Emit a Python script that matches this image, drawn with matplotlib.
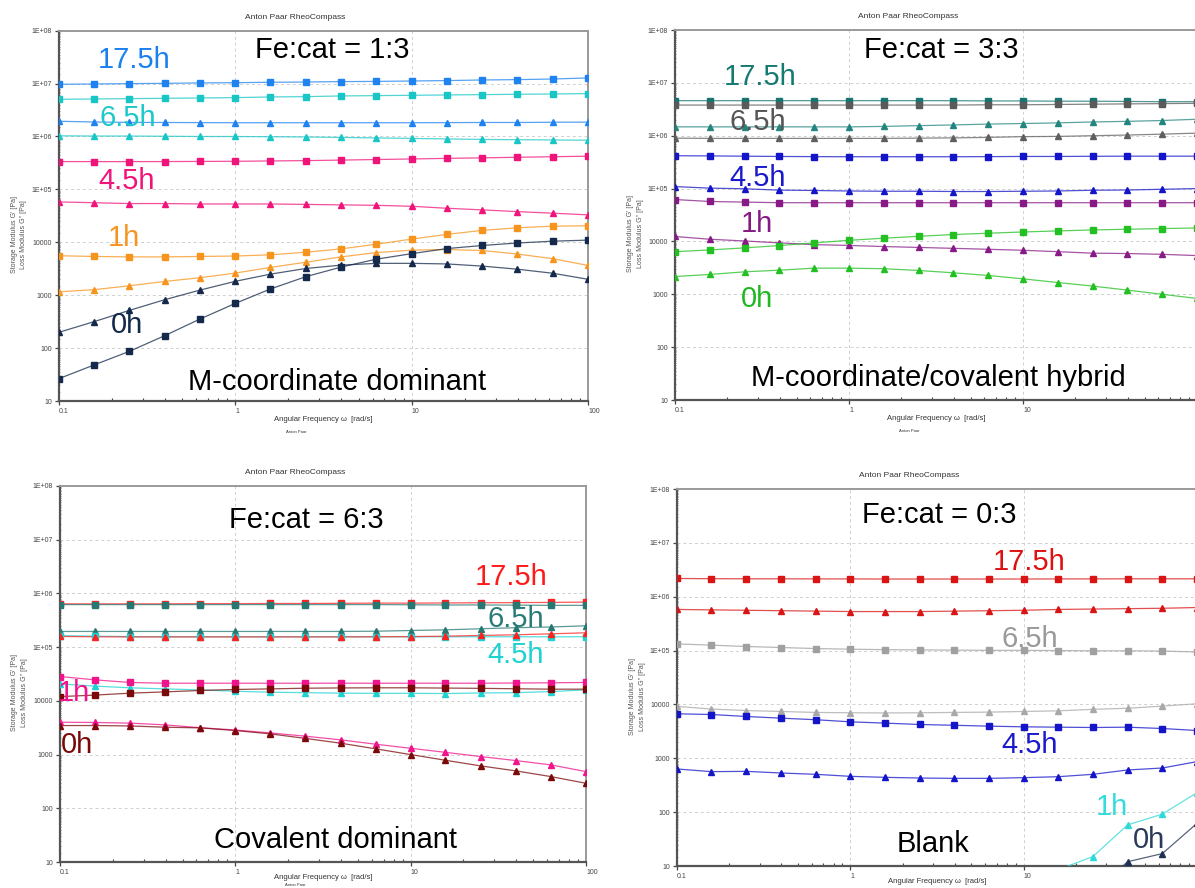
import matplotlib
matplotlib.use('Agg')
import matplotlib.pyplot as plt
import matplotlib.ticker as mticker
import numpy as np

plt.rcParams['font.family'] = ['Liberation Sans', 'DejaVu Sans']

# angular frequency sweep [rad/s], 5 points per decade
freq = [0.1, 0.158, 0.251, 0.398, 0.631, 1.0, 1.58, 2.51, 3.98, 6.31,
        10.0, 15.8, 25.1, 39.8, 63.1, 100.0]
nan = float('nan')

# Fe:cat = 1:3  (G' = storage, G'' = loss) [Pa]
a_175_gp = [9.7e6, 9.84e6, 9.99e6, 1.01e7, 1.03e7, 1.04e7, 1.06e7, 1.07e7, 1.09e7, 1.1e7,
            1.12e7, 1.14e7, 1.17e7, 1.19e7, 1.22e7, 1.28e7]
a_175_gpp = [1.94e6, 1.88e6, 1.85e6, 1.84e6, 1.83e6, 1.82e6, 1.82e6, 1.82e6, 1.82e6, 1.82e6,
             1.82e6, 1.83e6, 1.84e6, 1.84e6, 1.86e6, 1.87e6]
a_65_gp = [5.05e6, 5.12e6, 5.2e6, 5.27e6, 5.35e6, 5.43e6, 5.59e6, 5.67e6, 5.84e6, 5.93e6,
           6.01e6, 6.1e6, 6.19e6, 6.28e6, 6.37e6, 6.47e6]
a_65_gpp = [1.03e6, 1.02e6, 1.02e6, 1.01e6, 1.0e6, 1.0e6, 9.9e5, 9.8e5, 9.6e5, 9.4e5,
            9.2e5, 9.0e5, 8.8e5, 8.7e5, 8.6e5, 8.5e5]
a_45_gp = [3.36e5, 3.35e5, 3.35e5, 3.36e5, 3.38e5, 3.4e5, 3.45e5, 3.5e5, 3.58e5, 3.67e5,
           3.76e5, 3.86e5, 3.95e5, 4.05e5, 4.15e5, 4.24e5]
a_45_gpp = [5.8e4, 5.6e4, 5.4e4, 5.4e4, 5.3e4, 5.3e4, 5.3e4, 5.2e4, 5.1e4, 5.0e4,
            4.8e4, 4.4e4, 4.1e4, 3.8e4, 3.55e4, 3.3e4]
a_1_gp = [5.57e3, 5.4e3, 5.3e3, 5.3e3, 5.4e3, 5.5e3, 5.8e3, 6.5e3, 7.5e3, 9.2e3,
          1.15e4, 1.41e4, 1.68e4, 1.88e4, 2.02e4, 2.05e4]
a_1_gpp = [1.16e3, 1.27e3, 1.51e3, 1.82e3, 2.14e3, 2.62e3, 3.35e3, 4.2e3, 5.3e3, 6.4e3,
           7.1e3, 7.3e3, 7.0e3, 6.0e3, 4.9e3, 3.65e3]
a_0_gp = [26.5, 48, 87, 172, 355, 700, 1.31e3, 2.24e3, 3.4e3, 4.8e3,
          6.1e3, 7.6e3, 8.7e3, 9.7e3, 1.05e4, 1.1e4]
a_0_gpp = [199, 316, 517, 823, 1.25e3, 1.83e3, 2.5e3, 3.2e3, 3.7e3, 4.0e3,
           4.0e3, 3.9e3, 3.55e3, 3.1e3, 2.6e3, 2.0e3]

# Fe:cat = 3:3
b_175_gp = [4.6e6, 4.6e6, 4.6e6, 4.6e6, 4.6e6, 4.6e6, 4.6e6, 4.6e6, 4.6e6, 4.55e6,
            4.55e6, 4.5e6, 4.5e6, 4.45e6, 4.4e6, 4.4e6]
b_175_gpp = [1.47e6, 1.47e6, 1.47e6, 1.47e6, 1.47e6, 1.47e6, 1.5e6, 1.55e6, 1.6e6, 1.66e6,
             1.7e6, 1.75e6, 1.82e6, 1.87e6, 1.94e6, 2.05e6]
b_65_gp = [3.8e6, 3.8e6, 3.8e6, 3.8e6, 3.8e6, 3.8e6, 3.8e6, 3.8e6, 3.8e6, 3.85e6,
           3.85e6, 3.9e6, 3.95e6, 4.0e6, 4.05e6, 4.1e6]
b_65_gpp = [9.0e5, 8.9e5, 8.9e5, 8.9e5, 8.9e5, 8.9e5, 8.9e5, 9.0e5, 9.1e5, 9.3e5,
            9.6e5, 9.7e5, 1.0e6, 1.03e6, 1.07e6, 1.12e6]
b_45_gp = [4.18e5, 4.15e5, 4.1e5, 4.05e5, 4.02e5, 4.0e5, 4.0e5, 4.0e5, 4.0e5, 4.02e5,
           4.05e5, 4.05e5, 4.08e5, 4.1e5, 4.1e5, 4.1e5]
b_45_gpp = [1.09e5, 1.02e5, 9.9e4, 9.35e4, 9.2e4, 9.0e4, 8.9e4, 8.9e4, 8.8e4, 8.8e4,
            8.9e4, 9.0e4, 9.3e4, 9.4e4, 9.7e4, 1.0e5]
b_1_gp = [6.2e4, 5.7e4, 5.55e4, 5.4e4, 5.4e4, 5.4e4, 5.4e4, 5.4e4, 5.4e4, 5.4e4,
          5.4e4, 5.4e4, 5.4e4, 5.4e4, 5.4e4, 5.4e4]
b_1_gpp = [1.24e4, 1.1e4, 1.02e4, 9.4e3, 8.7e3, 8.4e3, 8.0e3, 7.7e3, 7.4e3, 7.1e3,
           6.8e3, 6.4e3, 6.0e3, 5.9e3, 5.7e3, 5.4e3]
b_0_gp = [6.4e3, 6.9e3, 7.55e3, 8.36e3, 9.4e3, 1.05e4, 1.15e4, 1.25e4, 1.35e4, 1.43e4,
          1.51e4, 1.58e4, 1.65e4, 1.7e4, 1.75e4, 1.8e4]
b_0_gpp = [2.17e3, 2.37e3, 2.66e3, 2.86e3, 3.12e3, 3.12e3, 3.05e3, 2.82e3, 2.55e3, 2.27e3,
           1.96e3, 1.67e3, 1.43e3, 1.2e3, 1.0e3, 834]

# Fe:cat = 6:3
c_175_gp = [6.4e5, 6.4e5, 6.4e5, 6.4e5, 6.45e5, 6.45e5, 6.5e5, 6.5e5, 6.55e5, 6.6e5,
            6.6e5, 6.65e5, 6.7e5, 6.75e5, 6.8e5, 6.9e5]
c_175_gpp = [1.58e5, 1.56e5, 1.55e5, 1.55e5, 1.55e5, 1.55e5, 1.55e5, 1.55e5, 1.55e5, 1.56e5,
             1.57e5, 1.6e5, 1.65e5, 1.7e5, 1.77e5, 1.85e5]
c_65_gp = [6.2e5, 6.2e5, 6.2e5, 6.2e5, 6.2e5, 6.2e5, 6.2e5, 6.2e5, 6.2e5, 6.2e5,
           6.15e5, 6.1e5, 6.1e5, 6.05e5, 6.0e5, 6.0e5]
c_65_gpp = [1.96e5, 1.96e5, 1.96e5, 1.96e5, 1.96e5, 1.96e5, 1.96e5, 1.96e5, 1.96e5, 1.98e5,
            2.04e5, 2.1e5, 2.2e5, 2.3e5, 2.37e5, 2.5e5]
c_45_gp = [1.64e5, 1.6e5, 1.57e5, 1.56e5, 1.56e5, 1.56e5, 1.56e5, 1.56e5, 1.56e5, 1.56e5,
           1.56e5, 1.56e5, 1.56e5, 1.56e5, 1.56e5, 1.56e5]
c_45_gpp = [2.07e4, 1.88e4, 1.75e4, 1.67e4, 1.6e4, 1.51e4, 1.45e4, 1.42e4, 1.39e4, 1.38e4,
            1.38e4, 1.37e4, 1.4e4, 1.42e4, 1.49e4, 1.6e4]
c_1_gp = [2.84e4, 2.46e4, 2.2e4, 2.13e4, 2.13e4, 2.13e4, 2.13e4, 2.13e4, 2.13e4, 2.13e4,
          2.13e4, 2.13e4, 2.13e4, 2.15e4, 2.17e4, 2.2e4]
c_1_gpp = [4.0e3, 3.96e3, 3.85e3, 3.57e3, 3.16e3, 2.87e3, 2.53e3, 2.2e3, 1.88e3, 1.56e3,
           1.31e3, 1.1e3, 918, 773, 642, 482]
c_0_gp = [1.2e4, 1.28e4, 1.39e4, 1.47e4, 1.56e4, 1.63e4, 1.67e4, 1.72e4, 1.74e4, 1.75e4,
          1.75e4, 1.73e4, 1.71e4, 1.68e4, 1.65e4, 1.65e4]
c_0_gpp = [3.47e3, 3.47e3, 3.41e3, 3.23e3, 3.14e3, 2.8e3, 2.43e3, 2.0e3, 1.63e3, 1.28e3,
           1.0e3, 783, 615, 497, 389, 292]

# Fe:cat = 0:3 (blank)
d_175_gp = [2.18e6, 2.16e6, 2.15e6, 2.15e6, 2.14e6, 2.14e6, 2.13e6, 2.13e6, 2.13e6, 2.13e6,
            2.13e6, 2.14e6, 2.14e6, 2.15e6, 2.15e6, 2.15e6]
d_175_gpp = [5.8e5, 5.7e5, 5.6e5, 5.5e5, 5.4e5, 5.3e5, 5.3e5, 5.3e5, 5.4e5, 5.5e5,
             5.6e5, 5.8e5, 5.9e5, 6.0e5, 6.1e5, 6.3e5]
d_65_gp = [1.33e5, 1.26e5, 1.19e5, 1.14e5, 1.09e5, 1.06e5, 1.04e5, 1.03e5, 1.02e5, 1.01e5,
           1.01e5, 1.0e5, 9.9e4, 9.9e4, 9.8e4, 9.4e4]
d_65_gpp = [9.2e3, 8.2e3, 7.7e3, 7.4e3, 7.1e3, 7.0e3, 6.95e3, 7.0e3, 7.1e3, 7.2e3,
            7.4e3, 7.6e3, 8.1e3, 8.5e3, 9.3e3, 1.03e4]
d_45_gp = [6.7e3, 6.5e3, 5.97e3, 5.56e3, 5.2e3, 4.75e3, 4.5e3, 4.24e3, 4.1e3, 3.95e3,
           3.84e3, 3.78e3, 3.73e3, 3.78e3, 3.57e3, 3.28e3]
d_45_gpp = [633, 565, 572, 533, 504, 462, 443, 430, 424, 424,
            437, 455, 504, 607, 660, 867]
d_1_gpp = [nan, nan, nan, nan, nan, nan, nan, nan, nan, nan,
           nan, 8.5, 15, 58, 92, 230]
d_0_gpp = [nan, nan, nan, nan, nan, nan, nan, nan, nan, nan,
           nan, nan, 3.3, 12, 17, 62]

W, H = 1195, 888
fig = plt.figure(figsize=(W / 100, H / 100), dpi=100)


def make_axes(x0, y0, x1, y1, xlabel_y=-0.049, footer_y=-0.084):
    ax = fig.add_axes([x0 / W, 1 - y1 / H, (x1 - x0) / W, (y1 - y0) / H])
    ax.set_xscale('log')
    ax.set_yscale('log')
    ax.set_xlim(0.1, 100)
    ax.set_ylim(10, 1e8)
    # right-hand panels run past the page edge, so their last decade label is lost
    xt = [0.1, 1, 10, 100] if x1 <= W else [0.1, 1, 10]
    ax.set_xticks(xt)
    ax.set_xticklabels(['%g' % v for v in xt])
    ax.set_yticks([10 ** k for k in range(1, 9)])
    ax.yaxis.set_major_formatter(mticker.FuncFormatter(
        lambda v, p: '1E+%02d' % round(np.log10(v)) if v >= 1e5 else '%d' % v))
    ax.xaxis.set_minor_locator(mticker.LogLocator(subs=np.arange(2, 10)))
    ax.yaxis.set_minor_locator(mticker.LogLocator(subs=np.arange(1.5, 10, 0.5), numticks=20))
    ax.xaxis.set_minor_formatter(mticker.NullFormatter())
    ax.yaxis.set_minor_formatter(mticker.NullFormatter())
    ax.tick_params(which='major', length=3, width=0.9, color='#444',
                   labelsize=5, labelcolor='#444', pad=2)
    ax.tick_params(axis='x', which='minor', direction='in', length=2.5, width=0.8, color='#444')
    ax.tick_params(axis='y', which='minor', direction='inout', length=2, width=0.5, color='#666')
    for lab in ax.get_xticklabels():
        lab.set_ha('left')
    ax.grid(True, which='major', ls=(0, (3, 3)), color='#cfcfcf', lw=0.7)
    for s in ['left', 'bottom']:
        ax.spines[s].set_color('#555')
        ax.spines[s].set_linewidth(1.6)
    for s in ['top', 'right']:
        ax.spines[s].set_color('#9a9a9a')
        ax.spines[s].set_linewidth(1.4)
    ax.set_facecolor('white')

    # RheoCompass header and axis titles
    ax.text(0.447, 1.036, 'Anton Paar RheoCompass', transform=ax.transAxes,
            ha='center', va='center', fontsize=6, color='#333')
    ax.text(0.5, xlabel_y, 'Angular Frequency \u03c9  [rad/s]', transform=ax.transAxes,
            ha='center', va='center', fontsize=5.5, color='#333')
    if footer_y is not None:
        ax.text(0.448, footer_y, 'Anton Paar', transform=ax.transAxes,
                ha='center', va='center', fontsize=3, color='#333')
    wpx = x1 - x0
    ax.text(-45 / wpx, 0.45, "Storage Modulus G' [Pa]", transform=ax.transAxes,
            rotation=90, ha='center', va='center', fontsize=5, color='#555')
    ax.text(-35 / wpx, 0.45, "Loss Modulus G'' [Pa]", transform=ax.transAxes,
            rotation=90, ha='center', va='center', fontsize=5, color='#555')
    return ax


def curve(ax, vals, color, marker):
    ms = 4.6 if marker == 's' else 4.2
    ax.plot(freq, vals, '-', color=color, lw=0.9, alpha=0.75, zorder=3)
    ax.plot(freq, vals, ls='none', marker=marker, ms=ms, color=color, zorder=4)


def tag(ax, x, y, s, color, size=21):
    ax.text(x, y, s, transform=ax.transAxes, ha='center', va='baseline',
            fontsize=size, color=color, zorder=6)


# Fe:cat = 1:3
ax1 = make_axes(59, 30.7, 588, 401)
curve(ax1, a_175_gp, '#1e82f0', 's')
curve(ax1, a_175_gpp, '#1e82f0', '^')
curve(ax1, a_65_gp, '#19c6c6', 's')
curve(ax1, a_65_gpp, '#19c6c6', '^')
curve(ax1, a_45_gp, '#f0147a', 's')
curve(ax1, a_45_gpp, '#f0147a', '^')
curve(ax1, a_1_gp, '#f7941d', 's')
curve(ax1, a_1_gpp, '#f7941d', '^')
curve(ax1, a_0_gp, '#14294b', 's')
curve(ax1, a_0_gpp, '#14294b', '^')
tag(ax1, 0.516, 0.926, 'Fe:cat = 1:3', 'black')
tag(ax1, 0.142, 0.899, '17.5h', '#1a80f0')
tag(ax1, 0.130, 0.743, '6.5h', '#1ec8c8')
tag(ax1, 0.127, 0.573, '4.5h', '#f0147a')
tag(ax1, 0.123, 0.419, '1h', '#f7941d')
tag(ax1, 0.129, 0.184, '0h', '#13294b')
tag(ax1, 0.526, 0.030, 'M-coordinate dominant', 'black')

# Fe:cat = 3:3
ax2 = make_axes(675, 30, 1197, 400)
curve(ax2, b_175_gp, '#167570', 's')
curve(ax2, b_65_gp, '#5a5a5a', 's')
curve(ax2, b_175_gpp, '#23857f', '^')
curve(ax2, b_65_gpp, '#5f5f5f', '^')
curve(ax2, b_45_gp, '#1414c8', 's')
curve(ax2, b_45_gpp, '#1414c8', '^')
curve(ax2, b_1_gp, '#881a88', 's')
curve(ax2, b_1_gpp, '#881a88', '^')
curve(ax2, b_0_gp, '#22c022', 's')
curve(ax2, b_0_gpp, '#22c022', '^')
tag(ax2, 0.510, 0.924, 'Fe:cat = 3:3', 'black')
tag(ax2, 0.163, 0.851, '17.5h', '#157a72')
tag(ax2, 0.159, 0.730, '6.5h', '#555555')
tag(ax2, 0.159, 0.578, '4.5h', '#1a1acc')
tag(ax2, 0.157, 0.454, '1h', '#851a85')
tag(ax2, 0.157, 0.251, '0h', '#1fb81f')
tag(ax2, 0.504, 0.038, 'M-coordinate/covalent hybrid', 'black')

# Fe:cat = 6:3
ax3 = make_axes(60, 486, 586, 862, xlabel_y=-0.040, footer_y=-0.062)
curve(ax3, c_175_gp, '#ff2020', 's')
curve(ax3, c_65_gp, '#267873', 's')
curve(ax3, c_65_gpp, '#267873', '^')
curve(ax3, c_45_gp, '#1ed2d2', 's')
curve(ax3, c_175_gpp, '#ff2020', '^')
curve(ax3, c_45_gpp, '#1ed2d2', '^')
curve(ax3, c_1_gp, '#f0148c', 's')
curve(ax3, c_0_gp, '#7a0a0a', 's')
curve(ax3, c_1_gpp, '#f0148c', '^')
curve(ax3, c_0_gpp, '#7a0a0a', '^')
tag(ax3, 0.468, 0.888, 'Fe:cat = 6:3', 'black')
tag(ax3, 0.857, 0.737, '17.5h', '#ff1a1a')
tag(ax3, 0.867, 0.625, '6.5h', '#2a7b76')
tag(ax3, 0.867, 0.529, '4.5h', '#1ed2d2')
tag(ax3, 0.027, 0.428, '1h', '#f0148c')
tag(ax3, 0.032, 0.290, '0h', '#7a0a0a')
tag(ax3, 0.523, 0.037, 'Covalent dominant', 'black')

# Fe:cat = 0:3
ax4 = make_axes(677, 489, 1197, 866, xlabel_y=-0.040, footer_y=None)
curve(ax4, d_175_gp, '#d91414', 's')
curve(ax4, d_175_gpp, '#d91414', '^')
curve(ax4, d_65_gp, '#a0a0a0', 's')
curve(ax4, d_65_gpp, '#a8a8a8', '^')
curve(ax4, d_45_gp, '#1414c8', 's')
curve(ax4, d_45_gpp, '#1414c8', '^')
curve(ax4, d_1_gpp, '#30d8d8', '^')
curve(ax4, d_0_gpp, '#1e3050', '^')
tag(ax4, 0.504, 0.910, 'Fe:cat = 0:3', 'black')
tag(ax4, 0.677, 0.785, '17.5h', '#dd1111')
tag(ax4, 0.679, 0.581, '6.5h', '#999999')
tag(ax4, 0.679, 0.300, '4.5h', '#1a1acc')
tag(ax4, 0.837, 0.135, '1h', '#33dddd')
tag(ax4, 0.908, 0.048, '0h', '#2a3a5a')
tag(ax4, 0.492, 0.037, 'Blank', 'black')

fig.savefig('out.png', dpi=100, facecolor='white')
